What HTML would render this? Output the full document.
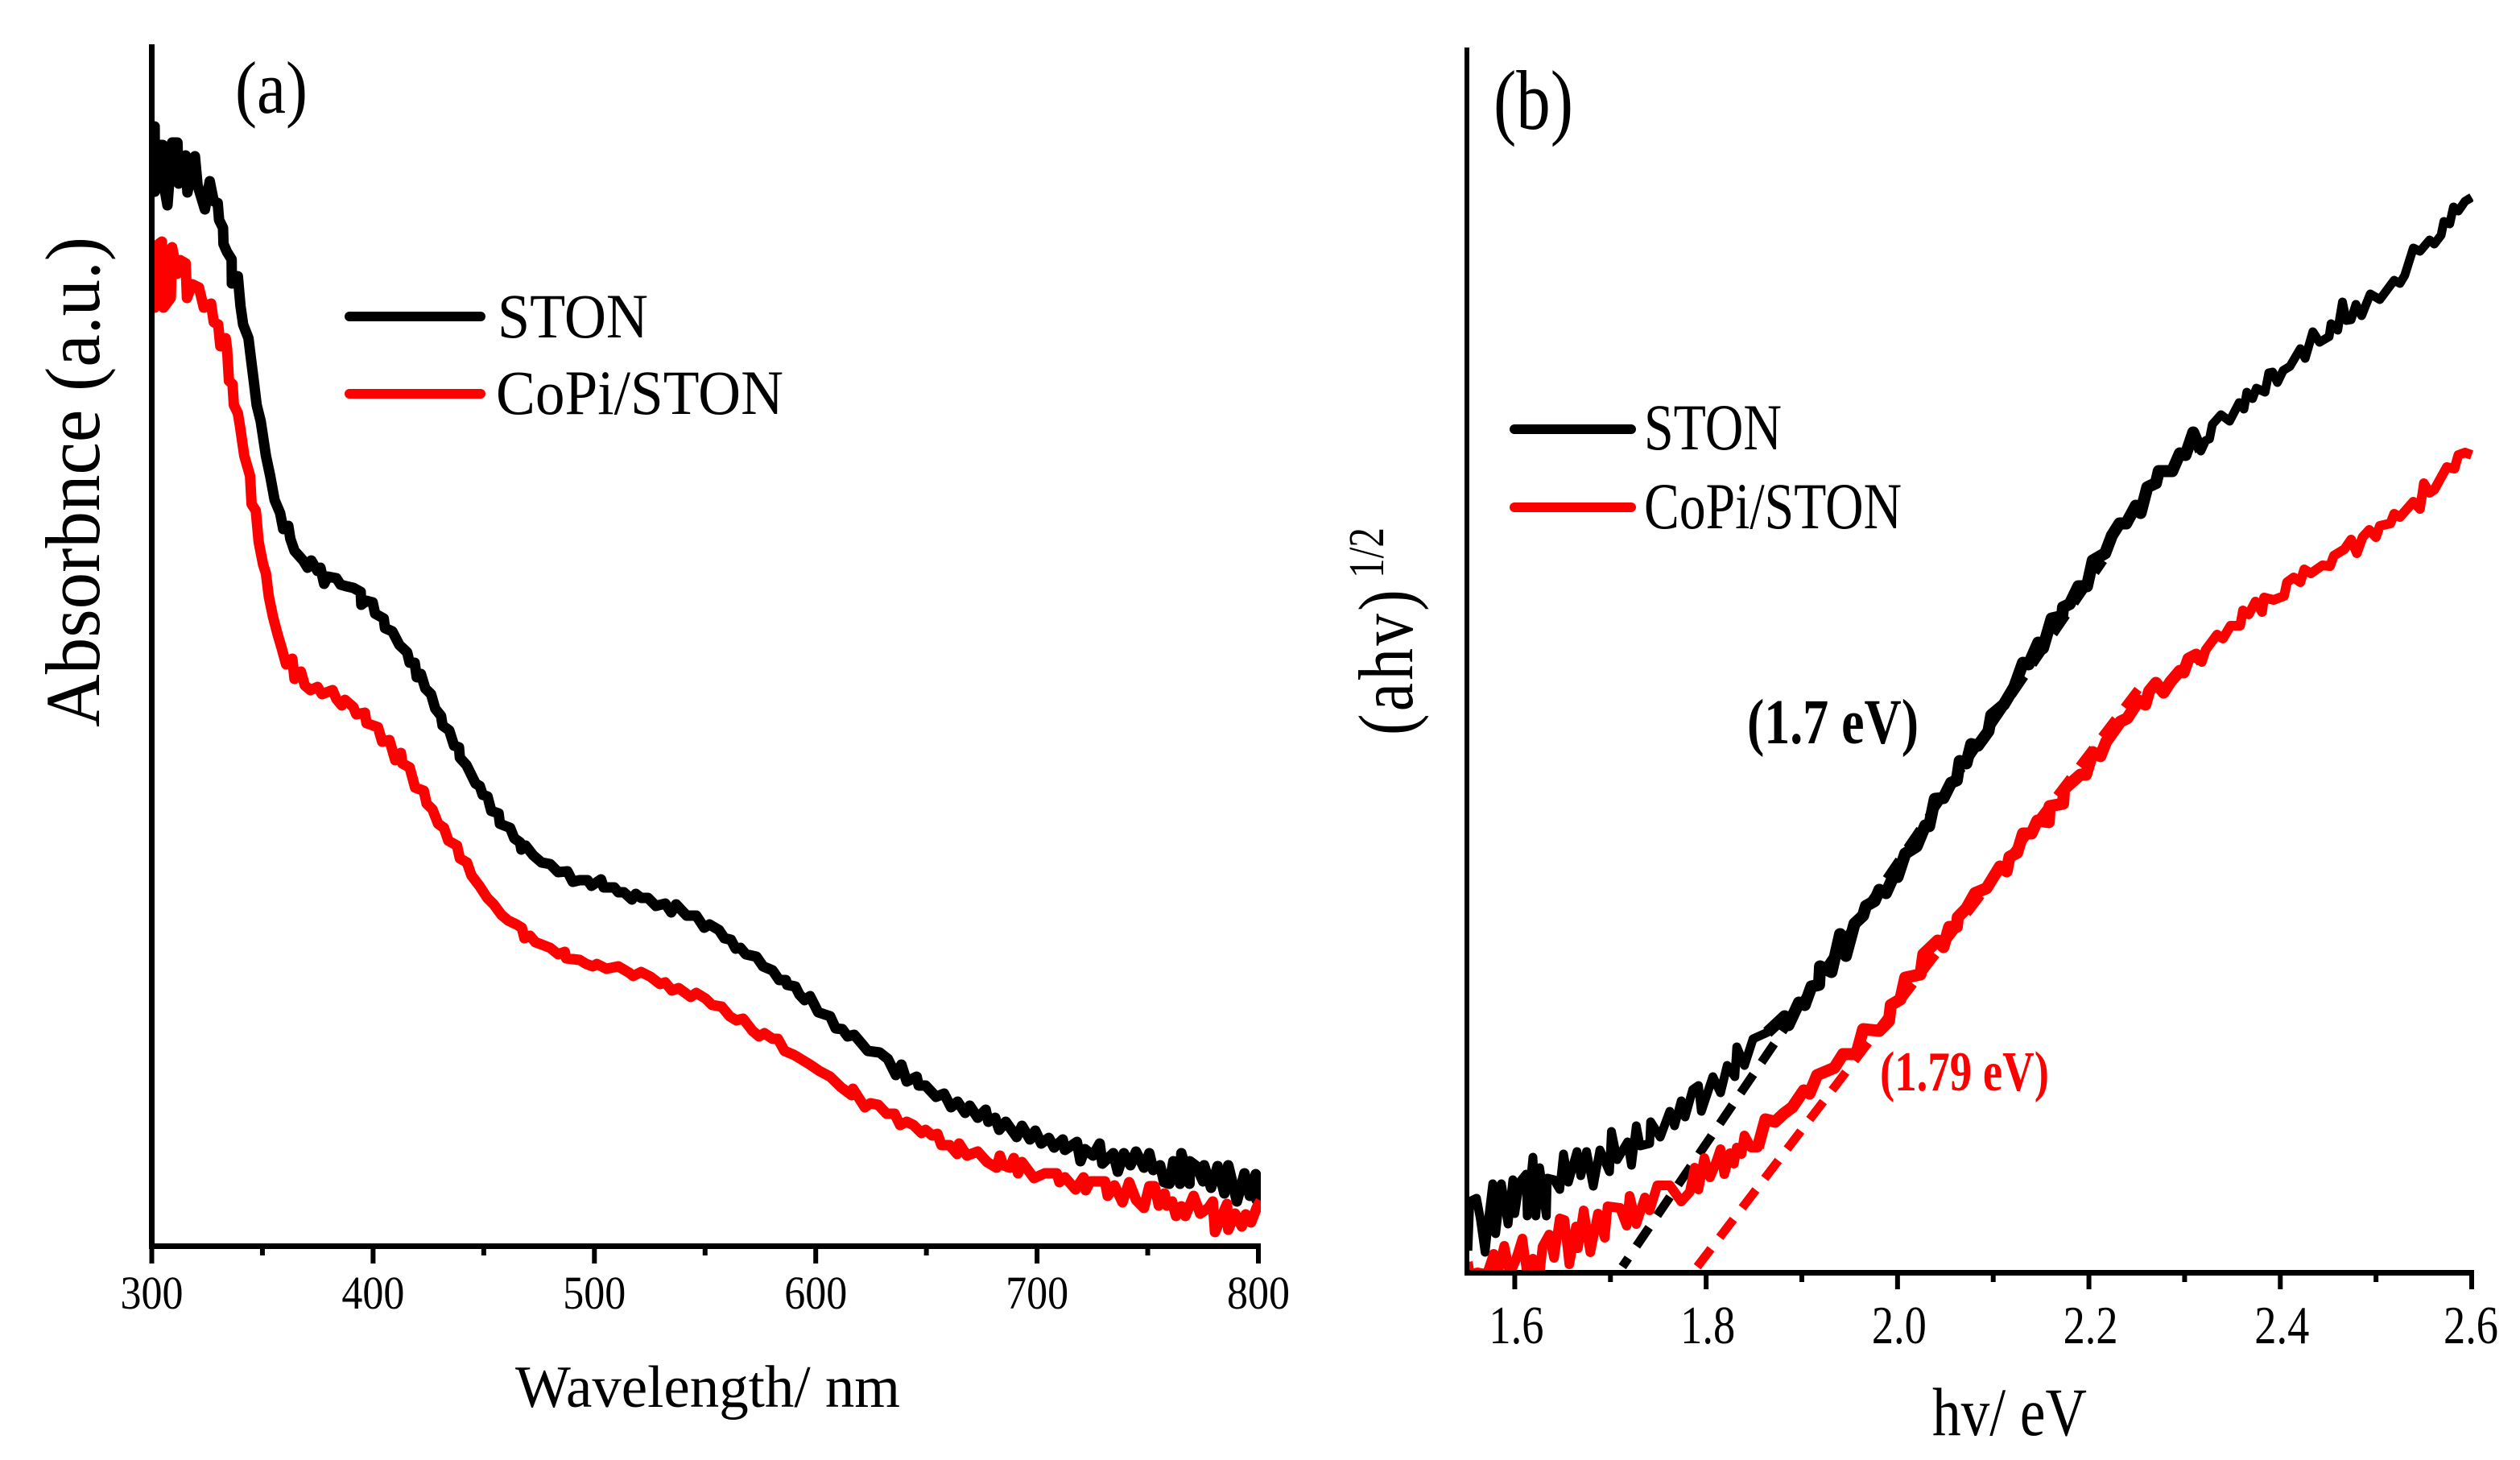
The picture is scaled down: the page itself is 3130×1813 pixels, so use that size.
<!DOCTYPE html>
<html lang="en">
<head>
<meta charset="utf-8">
<title>Absorbance and Tauc plots of STON and CoPi/STON</title>
<style>
html,body{margin:0;padding:0;background:#fff;}
svg{display:block;}
text{font-family:"Liberation Serif","DejaVu Serif",serif;fill:#000;}
</style>
</head>
<body>
<svg id="figure" xmlns="http://www.w3.org/2000/svg" width="3130" height="1813" viewBox="0 0 3130 1813">
  <rect x="0" y="0" width="3130" height="1813" fill="#fff"/>
  <defs>
    <clipPath id="clip-a"><rect x="188" y="40" width="1378" height="1507"/></clipPath>
    <clipPath id="clip-b"><rect x="1822" y="40" width="1250" height="1540"/></clipPath>
  </defs>

  <g id="panel-a">
    <g id="curves-a" clip-path="url(#clip-a)"></g>
    <g id="axes-a"></g>
    <text x="292" y="140" font-size="92" textLength="90" lengthAdjust="spacingAndGlyphs">(a)</text>
    <text x="0" y="0" transform="translate(123 903) rotate(-90)" font-size="96" textLength="609" lengthAdjust="spacingAndGlyphs">Absorbnce (a.u.)</text>
    <text x="640" y="1747" font-size="74" textLength="478" lengthAdjust="spacingAndGlyphs">Wavelength/ nm</text>
    <g>
      <line x1="434" y1="393" x2="597" y2="393" stroke="#000" stroke-width="12" stroke-linecap="round"/>
      <text x="618" y="419" font-size="78" textLength="187" lengthAdjust="spacingAndGlyphs">STON</text>
      <line x1="434" y1="489" x2="597" y2="489" stroke="#ff0000" stroke-width="12" stroke-linecap="round"/>
      <text x="616" y="514" font-size="78" textLength="357" lengthAdjust="spacingAndGlyphs">CoPi/STON</text>
    </g>
  </g>

  <g id="panel-b">
    <g id="curves-b" clip-path="url(#clip-b)"></g>
    <g id="axes-b"></g>
    <text x="1855" y="160" font-size="105" textLength="99" lengthAdjust="spacingAndGlyphs">(b)</text>
    <text x="0" y="0" transform="translate(1754 913) rotate(-90)" font-size="96" textLength="184" lengthAdjust="spacingAndGlyphs" letter-spacing="4">(ahv)</text>
    <text x="0" y="0" transform="translate(1718 718) rotate(-90)" font-size="62" textLength="63" lengthAdjust="spacingAndGlyphs">1/2</text>
    <text x="2400" y="1782" font-size="85" textLength="192" lengthAdjust="spacingAndGlyphs">hv/ eV</text>
    <g>
      <line x1="1881" y1="533" x2="2026" y2="533" stroke="#000" stroke-width="12" stroke-linecap="round"/>
      <text x="2042" y="558" font-size="82" textLength="171" lengthAdjust="spacingAndGlyphs">STON</text>
      <line x1="1881" y1="630" x2="2026" y2="630" stroke="#ff0000" stroke-width="12" stroke-linecap="round"/>
      <text x="2042" y="656" font-size="82" textLength="320" lengthAdjust="spacingAndGlyphs">CoPi/STON</text>
    </g>
    <text x="2170" y="923" font-size="79" font-weight="bold" textLength="213" lengthAdjust="spacingAndGlyphs">(1.7 eV)</text>
    <text x="2335" y="1354" font-size="70" font-weight="bold" textLength="210" lengthAdjust="spacingAndGlyphs" style="fill:#ff0000">(1.79 eV)</text>
  </g>
</svg>

<script>
/* Panel (a): absorbance vs wavelength */
const wavelengthTicksMajor = [300, 400, 500, 600, 700, 800];
const wavelengthTicksMinor = [350, 450, 550, 650, 750];

const stonWavelength = [
300.1,301.3,301.4,303.1,305,305.3,307.1,309.2,311.6,312.2,
315.3,316.1,319.5,320.7,324,326.2,328,329.8,330.4,332.2,
332.4,334,336.1,336.2,338.9,340.1,341.3,343.7,344.9,346.1,
347.4,349.2,351.6,353.5,355.5,358,359.4,361.7,362.6,364.5,
368.4,370.4,372.1,374.9,376.2,377.9,379.5,383.4,385.3,387.9,
391.1,394.4,394.7,397,399.8,400.9,404.8,405.4,408.7,411.9,
415.4,416.5,418.8,419.7,421.6,423.6,426.2,428.1,430.7,431.4,
434.4,436.6,438.8,439.2,442.2,446.3,448.2,449.5,451.7,453.4,
456.7,457.3,461.9,463.8,466.4,467,468.9,472.3,476.1,480,
483.6,487.8,490.2,493.3,496.9,498.7,503,504.2,509,510.8,
513.3,516.9,518.7,521.1,524.2,527.8,532,534.7,536.9,541.7,
546,549.6,552,556.3,558.7,561.7,563.8,566,568.4,573.2,
576.2,580.5,583.5,586.5,587.1,590.8,592.6,595,597.4,601.1,
606.5,609,612,614.4,617.4,621.1,623.5,628.9,632.6,636.2,
638.7,641.1,645.6,646.5,649.6,654.4,658,661.1,664.1,667.5,
669.6,673.2,676.8,678,681.1,682.9,685.9,690.8,693.2,696.8,
699.2,701.9,705.3,707.7,711.6,712.6,718,719.6,721.6,725.3,
728.3,729.5,734.4,736.5,739.2,742.2,744.7,748.3,750.7,752.5,
755.6,757.4,759.8,761.6,764.6,765.2,768.9,769,771.9,775,
775.5,778.6,781.6,784.6,786.4,790.3,793.7,796.1,798.8,799.2,
801];
const stonAbsorbance = [
1373,1389,1308,1366,1366,1319,1291,1369,1369,1318,
1353,1307,1352,1316,1286,1321,1296,1294,1273,1263,
1243,1233,1224,1194,1203,1166,1143,1126,1099,1073,
1043,1023,980,955,925,909,889,893,877,862,
850,841,850,837,841,821,830,828,820,818,
816,811,795,800,798,784,778,766,762,745,
736,723,723,705,709,691,684,666,657,645,
639,620,618,605,596,573,570,559,557,539,
536,523,518,505,500,491,496,484,475,473,
463,464,451,453,453,446,454,444,444,438,
438,429,436,431,431,421,424,413,423,409,
409,394,398,391,381,379,368,369,361,358,
346,341,329,329,323,321,311,304,309,289,
284,269,268,259,261,249,241,239,231,211,
224,203,209,198,198,184,188,171,178,164,
173,158,168,153,158,143,153,134,148,131,
142,126,133,121,131,118,128,104,119,111,
126,101,114,91,114,99,116,96,114,93,
99,78,76,104,76,114,76,104,98,79,
99,71,98,64,99,54,89,61,88,56,
75];

const copiWavelength = [
300.7,301.3,303.1,304.6,305.3,308.6,309.2,311.4,312.8,315.3,
315.9,318.3,321.3,323.5,326.8,328,330,331,333.4,334,
334.9,336.5,337.1,338.9,339.9,341.8,344.4,345.1,347,348.3,
350.3,351.6,352.9,354.8,356.8,358.7,360.7,363.5,364.5,367.4,
369.1,371.7,374.9,376.9,381.7,383.4,385.9,387.3,391.1,392.4,
396.3,397,402.2,404.1,407.4,410,412.6,413.2,416.5,419,
422.9,424.2,426.8,429.4,432,434,437.9,439.2,442.4,444.4,
448,451.6,454.5,458,461,464.8,467.2,468.4,470.9,473.3,
476.3,480,483.6,486.6,487.2,493.3,496.3,499.3,501.1,505.4,
510.8,515.7,517.5,521.1,525.4,529.6,532,535,538.1,543.5,
546,550.2,553.2,557.5,561.1,564.1,567.2,571.4,574.4,576.8,
580.5,582.9,585.9,590.2,597.4,601.7,606.5,611.4,616.2,616.8,
622.2,624.7,628.3,632,635.6,638.1,641.1,644.1,647.8,649.6,
652.6,655,656.8,660.5,663.9,664.8,668.3,673.2,677.4,681.7,
683.2,684.7,687.7,689.5,691.4,693.2,698.6,703.5,708.9,710.1,
712.6,717.4,721,722,724,730.7,731.9,735,738.6,741.6,
744.7,748.3,750.7,753.1,755,757.6,758.6,761,762.8,765.2,
767,770.7,773.7,777.4,779.4,780.4,785.8,786.4,789.5,792.5,
794.3,796.7,799.2,801];
const copiAbsorbance = [
1243,1164,1243,1246,1164,1176,1239,1206,1223,1219,
1176,1193,1189,1164,1169,1146,1143,1116,1126,1113,
1073,1069,1043,1033,1016,980,955,920,912,873,
845,834,805,780,759,741,721,728,703,712,
695,689,693,684,689,678,670,677,668,659,
661,648,643,625,627,602,611,598,593,568,
564,548,541,523,518,502,496,480,475,459,
446,431,423,410,403,398,394,381,384,376,
373,369,361,364,356,354,349,346,349,343,
346,338,334,339,333,324,326,316,319,308,
313,306,298,296,284,279,281,266,259,263,
256,256,241,236,224,216,209,196,186,194,
171,176,174,163,163,149,153,149,139,143,
136,138,124,124,113,126,111,116,103,96,
111,99,96,108,89,103,83,89,89,78,
84,69,84,68,79,79,61,74,53,78,
56,46,73,73,49,64,49,54,36,48,
36,61,39,46,54,16,51,19,39,23,
38,28,46,55];

/* Panel (b): Tauc plot vs photon energy */
const energyTicksMajor = [1.6, 1.8, 2.0, 2.2, 2.4, 2.6];
const energyTicksMinor = [1.7, 1.9, 2.1, 2.3, 2.5];
const energyTickLabels = ["1.6", "1.8", "2.0", "2.2", "2.4", "2.6"];

const stonEnergy = [
1.551,1.553,1.560,1.564,1.569,1.573,1.577,1.580,1.586,1.593,
1.598,1.600,1.605,1.612,1.613,1.619,1.622,1.626,1.633,1.634,
1.641,1.647,1.651,1.656,1.665,1.669,1.675,1.682,1.689,1.699,
1.701,1.707,1.718,1.722,1.727,1.731,1.741,1.742,1.752,1.762,
1.767,1.774,1.778,1.786,1.792,1.795,1.807,1.815,1.822,1.830,
1.832,1.840,1.849,1.864,1.882,1.886,1.897,1.903,1.910,1.918,
1.919,1.931,1.940,1.946,1.955,1.964,1.967,1.976,1.981,1.988,
1.997,2.000,2.008,2.020,2.029,2.033,2.039,2.048,2.056,2.062,
2.065,2.072,2.077,2.084,2.095,2.098,2.111,2.122,2.131,2.137,
2.147,2.152,2.161,2.172,2.173,2.180,2.189,2.198,2.204,2.217,
2.224,2.232,2.239,2.249,2.254,2.261,2.270,2.273,2.287,2.295,
2.301,2.309,2.317,2.322,2.326,2.329,2.338,2.347,2.357,2.362,
2.365,2.371,2.375,2.384,2.388,2.392,2.397,2.403,2.410,2.421,
2.426,2.434,2.441,2.451,2.453,2.460,2.465,2.469,2.474,2.479,
2.485,2.494,2.504,2.519,2.525,2.530,2.539,2.546,2.556,2.561,
2.568,2.571,2.577,2.581,2.586,2.593,2.600];
const stonTauc = [
27,88,92,67,25,70,110,48,110,60,
115,73,112,122,70,143,70,130,70,117,
115,103,147,112,150,120,150,107,152,125,
175,140,162,133,182,157,160,187,168,200,
182,213,193,227,232,200,243,223,257,243,
280,257,290,298,318,307,335,332,355,357,
380,373,420,393,433,443,455,461,475,471,
495,491,520,529,555,554,588,589,608,611,
635,632,656,654,672,692,705,727,757,755,
782,775,812,815,826,830,852,852,884,893,
915,930,930,952,943,975,980,995,995,1017,
1015,1043,1020,1033,1035,1053,1065,1057,1080,1072,
1093,1085,1098,1093,1117,1118,1105,1120,1125,1147,
1135,1168,1155,1162,1178,1170,1205,1182,1183,1202,
1188,1215,1208,1232,1228,1238,1272,1268,1282,1277,
1288,1305,1302,1323,1318,1330,1335];

const copiEnergy = [
1.551,1.553,1.561,1.571,1.578,1.582,1.589,1.595,1.601,1.608,
1.613,1.619,1.626,1.629,1.636,1.641,1.647,1.652,1.657,1.664,
1.666,1.672,1.679,1.687,1.694,1.697,1.710,1.717,1.720,1.727,
1.736,1.741,1.749,1.762,1.774,1.783,1.788,1.792,1.798,1.804,
1.809,1.815,1.819,1.825,1.829,1.832,1.837,1.840,1.847,1.854,
1.862,1.872,1.881,1.890,1.902,1.908,1.916,1.934,1.943,1.957,
1.964,1.981,1.991,1.993,2.003,2.008,2.024,2.027,2.042,2.048,
2.054,2.062,2.063,2.072,2.081,2.093,2.107,2.114,2.117,2.125,
2.131,2.140,2.146,2.158,2.159,2.173,2.174,2.191,2.197,2.204,
2.212,2.218,2.233,2.240,2.252,2.259,2.263,2.270,2.278,2.285,
2.295,2.299,2.304,2.312,2.318,2.322,2.334,2.340,2.348,2.358,
2.361,2.367,2.374,2.381,2.383,2.393,2.404,2.407,2.414,2.421,
2.425,2.432,2.444,2.452,2.456,2.467,2.474,2.480,2.486,2.493,
2.500,2.504,2.515,2.519,2.525,2.539,2.546,2.550,2.556,2.561,
2.574,2.582,2.586,2.593,2.600];
const copiTauc = [
13,-3,0,-2,23,-2,33,-2,15,42,
-3,17,-3,32,47,18,67,65,10,57,
30,77,25,73,43,82,80,58,95,60,
93,77,108,108,88,100,130,103,142,118,
132,153,122,148,135,155,147,170,155,155,
190,187,197,205,226,222,245,254,271,271,
302,300,312,332,339,366,370,395,412,404,
429,429,441,452,471,477,504,498,516,521,
545,545,561,559,579,582,600,618,618,646,
641,659,684,688,710,705,722,732,720,733,
747,745,762,767,758,773,792,787,803,803,
822,817,833,820,838,835,840,857,863,857,
873,868,878,877,890,898,910,893,913,922,
913,927,930,942,938,957,948,980,968,972,
1000,998,1015,1018,1015];

/* Linear band-gap fits */
const stonFitEnergy = [1.7125, 2.215];
const stonFitTauc = [7, 884];
const copiFitEnergy = [1.7907, 2.2547];
const copiFitTauc = [7, 729];

/* The steep middle stretch of the Tauc traces is visibly heavier */
const heavyEnergyRange = [1.85, 2.32];

/* Axis functions */
function linearScale(d0, d1, r0, r1) {
  return function (v) { return r0 + (v - d0) * (r1 - r0) / (d1 - d0); };
}
const xA = linearScale(300, 800, 188.5, 1563);
const yA = linearScale(0, 1491, 1546, 55);
const xB = linearScale(1.55, 2.6, 1822, 3070);
const yB = linearScale(0, 1521, 1580, 59);

const SVG_NS = "http://www.w3.org/2000/svg";

function polyPoints(xs, ys, xf, yf) {
  return xs.map(function (x, i) { return xf(x).toFixed(1) + "," + yf(ys[i]).toFixed(1); }).join(" ");
}

function heavyPoints(xs, ys) {
  const out = [];
  xs.forEach(function (x, i) {
    if (x >= heavyEnergyRange[0] && x <= heavyEnergyRange[1]) {
      out.push(xB(x).toFixed(1) + "," + yB(ys[i]).toFixed(1));
    }
  });
  return out.join(" ");
}

function makeLine(x1, y1, x2, y2, width) {
  const l = document.createElementNS(SVG_NS, "line");
  l.setAttribute("x1", x1);
  l.setAttribute("y1", y1);
  l.setAttribute("x2", x2);
  l.setAttribute("y2", y2);
  l.setAttribute("stroke", "#000");
  l.setAttribute("stroke-width", width);
  return l;
}

function makeTickLabel(x, y, str, size, len) {
  const t = document.createElementNS(SVG_NS, "text");
  t.setAttribute("x", x);
  t.setAttribute("y", y);
  t.setAttribute("text-anchor", "middle");
  t.setAttribute("font-size", size);
  t.setAttribute("textLength", len);
  t.setAttribute("lengthAdjust", "spacingAndGlyphs");
  t.textContent = str;
  return t;
}

const curvesA = document.getElementById("curves-a");
const curvesB = document.getElementById("curves-b");
const axesA = document.getElementById("axes-a");
const axesB = document.getElementById("axes-b");

/* Panel (a) series */
const lineStonA = document.createElementNS(SVG_NS, "polyline");


lineStonA.setAttribute("points", polyPoints(stonWavelength, stonAbsorbance, xA, yA));
lineStonA.setAttribute("fill", "none");
lineStonA.setAttribute("stroke", "#000");
lineStonA.setAttribute("stroke-width", "13");
lineStonA.setAttribute("stroke-linejoin", "round");
curvesA.appendChild(lineStonA);

const lineCopiA = document.createElementNS(SVG_NS, "polyline");


lineCopiA.setAttribute("points", polyPoints(copiWavelength, copiAbsorbance, xA, yA));
lineCopiA.setAttribute("fill", "none");
lineCopiA.setAttribute("stroke", "#ff0000");
lineCopiA.setAttribute("stroke-width", "13");
lineCopiA.setAttribute("stroke-linejoin", "round");
curvesA.appendChild(lineCopiA);

/* Panel (b) fits, drawn below the traces */
const fitStonLine = document.createElementNS(SVG_NS, "polyline");


fitStonLine.setAttribute("points", polyPoints(stonFitEnergy, stonFitTauc, xB, yB));
fitStonLine.setAttribute("fill", "none");
fitStonLine.setAttribute("stroke", "#000");
fitStonLine.setAttribute("stroke-width", "11");
fitStonLine.setAttribute("stroke-dasharray", "28 18");
fitStonLine.setAttribute("stroke-dashoffset", "15");
curvesB.appendChild(fitStonLine);

const fitCopiLine = document.createElementNS(SVG_NS, "polyline");


fitCopiLine.setAttribute("points", polyPoints(copiFitEnergy, copiFitTauc, xB, yB));
fitCopiLine.setAttribute("fill", "none");
fitCopiLine.setAttribute("stroke", "#ff0000");
fitCopiLine.setAttribute("stroke-width", "11");
fitCopiLine.setAttribute("stroke-dasharray", "28 18");
curvesB.appendChild(fitCopiLine);

/* Panel (b) series */
const lineStonB = document.createElementNS(SVG_NS, "polyline");


lineStonB.setAttribute("points", polyPoints(stonEnergy, stonTauc, xB, yB));
lineStonB.setAttribute("fill", "none");
lineStonB.setAttribute("stroke", "#000");
lineStonB.setAttribute("stroke-width", "11");
lineStonB.setAttribute("stroke-linejoin", "round");
curvesB.appendChild(lineStonB);

const heavyStonB = document.createElementNS(SVG_NS, "polyline");


heavyStonB.setAttribute("points", heavyPoints(stonEnergy, stonTauc));
heavyStonB.setAttribute("fill", "none");
heavyStonB.setAttribute("stroke", "#000");
heavyStonB.setAttribute("stroke-width", "15");
heavyStonB.setAttribute("stroke-linejoin", "round");
curvesB.appendChild(heavyStonB);

const lineCopiB = document.createElementNS(SVG_NS, "polyline");


lineCopiB.setAttribute("points", polyPoints(copiEnergy, copiTauc, xB, yB));
lineCopiB.setAttribute("fill", "none");
lineCopiB.setAttribute("stroke", "#ff0000");
lineCopiB.setAttribute("stroke-width", "12");
lineCopiB.setAttribute("stroke-linejoin", "round");
curvesB.appendChild(lineCopiB);

const heavyCopiB = document.createElementNS(SVG_NS, "polyline");


heavyCopiB.setAttribute("points", heavyPoints(copiEnergy, copiTauc));
heavyCopiB.setAttribute("fill", "none");
heavyCopiB.setAttribute("stroke", "#ff0000");
heavyCopiB.setAttribute("stroke-width", "15");
heavyCopiB.setAttribute("stroke-linejoin", "round");
curvesB.appendChild(heavyCopiB);

/* Panel (a) axes */
const yAxisA = makeLine(188.5, 55, 188.5, 1551, 7);


axesA.appendChild(yAxisA);

const xAxisA = makeLine(185, 1547.5, 1566, 1547.5, 7);


axesA.appendChild(xAxisA);

wavelengthTicksMajor.forEach(function (v) {
  const tick = makeLine(xA(v), 1547, xA(v), 1569, 6);
  
  
  axesA.appendChild(tick);
  const label = makeTickLabel(xA(v), 1625, String(v), 58, 78);
  
  
  axesA.appendChild(label);
});
wavelengthTicksMinor.forEach(function (v) {
  const tick = makeLine(xA(v), 1547, xA(v), 1559, 6);
  
  
  axesA.appendChild(tick);
});

/* Panel (b) axes */
const yAxisB = makeLine(1822, 59, 1822, 1584, 6);


axesB.appendChild(yAxisB);

const xAxisB = makeLine(1819, 1580.5, 3073, 1580.5, 7);


axesB.appendChild(xAxisB);

energyTicksMajor.forEach(function (v, i) {
  const tick = makeLine(xB(v), 1580, xB(v), 1601, 6);
  
  
  axesB.appendChild(tick);
  const label = makeTickLabel(xB(v) + (i === 5 ? -1 : 2), 1668, energyTickLabels[i], 67, 68);
  
  
  axesB.appendChild(label);
});
energyTicksMinor.forEach(function (v) {
  const tick = makeLine(xB(v), 1580, xB(v), 1592, 6);
  
  
  axesB.appendChild(tick);
});
</script>
</body>
</html>
